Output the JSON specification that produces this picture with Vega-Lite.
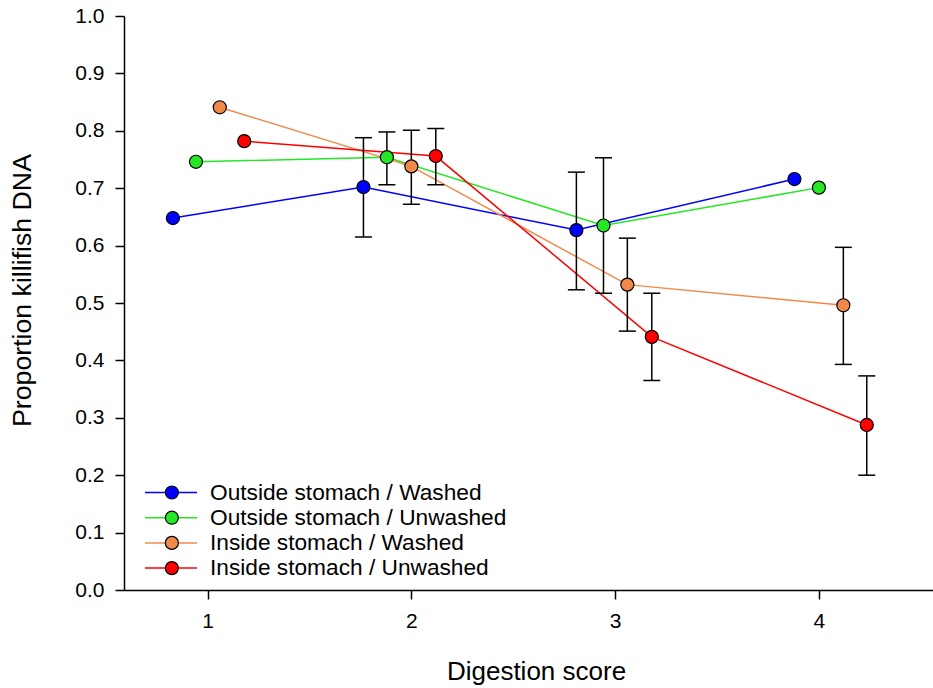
{
  "$schema": "https://vega.github.io/schema/vega-lite/v6.json",
  "autosize": {"type": "none"},
  "width": 809,
  "height": 574,
  "padding": {"left": 124, "top": 16, "right": 0, "bottom": 98},
  "background": "white",
  "config": {
    "view": {"stroke": null},
    "font": "Liberation Sans",
    "axis": {
      "grid": false,
      "domainColor": "black",
      "domainWidth": 1.5,
      "tickColor": "black",
      "tickWidth": 1.5,
      "tickSize": 9,
      "labelFont": "Liberation Sans",
      "labelFontSize": 21,
      "labelColor": "black",
      "titleFont": "Liberation Sans",
      "titleFontSize": 26,
      "titleFontWeight": "normal",
      "titleColor": "black"
    },
    "legend": {
      "labelFont": "Liberation Sans",
      "labelFontSize": 22.7,
      "labelColor": "black",
      "labelLimit": 0
    }
  },
  "data": {
    "values": [
      {"series": "Outside stomach / Washed", "order": 1, "x": 0.83, "y": 0.648, "lo": null, "hi": null},
      {"series": "Outside stomach / Washed", "order": 1, "x": 1.765, "y": 0.702, "lo": 0.615, "hi": 0.788},
      {"series": "Outside stomach / Washed", "order": 1, "x": 2.81, "y": 0.627, "lo": 0.523, "hi": 0.728},
      {"series": "Outside stomach / Washed", "order": 1, "x": 3.88, "y": 0.716, "lo": null, "hi": null},
      {"series": "Outside stomach / Unwashed", "order": 2, "x": 0.943, "y": 0.746, "lo": null, "hi": null},
      {"series": "Outside stomach / Unwashed", "order": 2, "x": 1.88, "y": 0.754, "lo": 0.706, "hi": 0.798},
      {"series": "Outside stomach / Unwashed", "order": 2, "x": 2.943, "y": 0.635, "lo": 0.517, "hi": 0.753},
      {"series": "Outside stomach / Unwashed", "order": 2, "x": 4.0, "y": 0.701, "lo": null, "hi": null},
      {"series": "Inside stomach / Washed", "order": 3, "x": 1.06, "y": 0.841, "lo": null, "hi": null},
      {"series": "Inside stomach / Washed", "order": 3, "x": 2.0, "y": 0.738, "lo": 0.672, "hi": 0.801},
      {"series": "Inside stomach / Washed", "order": 3, "x": 3.06, "y": 0.532, "lo": 0.451, "hi": 0.613},
      {"series": "Inside stomach / Washed", "order": 3, "x": 4.12, "y": 0.496, "lo": 0.393, "hi": 0.597},
      {"series": "Inside stomach / Unwashed", "order": 4, "x": 1.18, "y": 0.782, "lo": null, "hi": null},
      {"series": "Inside stomach / Unwashed", "order": 4, "x": 2.12, "y": 0.756, "lo": 0.706, "hi": 0.804},
      {"series": "Inside stomach / Unwashed", "order": 4, "x": 3.18, "y": 0.441, "lo": 0.365, "hi": 0.517},
      {"series": "Inside stomach / Unwashed", "order": 4, "x": 4.235, "y": 0.2875, "lo": 0.2, "hi": 0.373}
    ]
  },
  "layer": [
    {
      "mark": {"type": "line", "strokeWidth": 1.5},
      "encoding": {
        "x": {
          "field": "x", "type": "quantitative", "title": "Digestion score",
          "scale": {"domain": [0.59, 4.56], "nice": false, "zero": false},
          "axis": {"values": [1, 2, 3, 4], "format": "d", "labelPadding": 11, "titleX": 412, "titleY": 68}
        },
        "y": {
          "field": "y", "type": "quantitative", "title": "Proportion killifish DNA",
          "scale": {"domain": [0, 1], "nice": false},
          "axis": {"values": [0, 0.1, 0.2, 0.3, 0.4, 0.5, 0.6, 0.7, 0.8, 0.9, 1.0], "format": ".1f", "labelPadding": 11, "titleFontSize": 26.7, "titleX": -88, "titleY": 274}
        },
        "stroke": {
          "field": "series", "type": "nominal",
          "sort": {"field": "order", "op": "min"},
          "scale": {"range": ["#0000ff", "#26e626", "#f08a4b", "#ff0000"]},
          "legend": {
            "orient": "none", "legendX": 20, "legendY": 466, "title": null,
            "symbolType": "stroke", "symbolSize": 2704, "symbolStrokeWidth": 1.5,
            "clipHeight": 21, "rowPadding": 1.2, "labelOffset": 12, "padding": 0, "labelLimit": 0
          }
        }
      }
    },
    {
      "transform": [{"filter": "datum.lo != null"}],
      "mark": {"type": "rule", "color": "black", "strokeWidth": 1.5},
      "encoding": {
        "x": {"field": "x", "type": "quantitative", "title": "Digestion score"},
        "y": {"field": "lo", "type": "quantitative", "title": "Proportion killifish DNA"},
        "y2": {"field": "hi"}
      }
    },
    {
      "transform": [{"filter": "datum.lo != null"}],
      "mark": {"type": "tick", "orient": "horizontal", "color": "black", "size": 17, "thickness": 1.5, "opacity": 1},
      "encoding": {
        "x": {"field": "x", "type": "quantitative", "title": "Digestion score"},
        "y": {"field": "lo", "type": "quantitative", "title": "Proportion killifish DNA"}
      }
    },
    {
      "transform": [{"filter": "datum.hi != null"}],
      "mark": {"type": "tick", "orient": "horizontal", "color": "black", "size": 17, "thickness": 1.5, "opacity": 1},
      "encoding": {
        "x": {"field": "x", "type": "quantitative", "title": "Digestion score"},
        "y": {"field": "hi", "type": "quantitative", "title": "Proportion killifish DNA"}
      }
    },
    {
      "mark": {"type": "point", "shape": "circle", "filled": true, "size": 170, "stroke": "black", "strokeWidth": 1.2, "opacity": 1},
      "encoding": {
        "x": {"field": "x", "type": "quantitative", "title": "Digestion score"},
        "y": {"field": "y", "type": "quantitative", "title": "Proportion killifish DNA"},
        "fill": {
          "field": "series", "type": "nominal",
          "scale": {
            "domain": ["Outside stomach / Washed", "Outside stomach / Unwashed", "Inside stomach / Washed", "Inside stomach / Unwashed"],
            "range": ["#0000ff", "#26e626", "#f08a4b", "#ff0000"]
          },
          "legend": {
            "orient": "none", "legendX": 36.5, "legendY": 466, "title": null,
            "symbolType": "circle", "symbolSize": 170, "symbolStrokeColor": "black", "symbolStrokeWidth": 1.2,
            "symbolOpacity": 1, "clipHeight": 21, "rowPadding": 1.2, "labelExpr": "''", "labelOpacity": 0, "padding": 0
          }
        }
      }
    }
  ]
}
